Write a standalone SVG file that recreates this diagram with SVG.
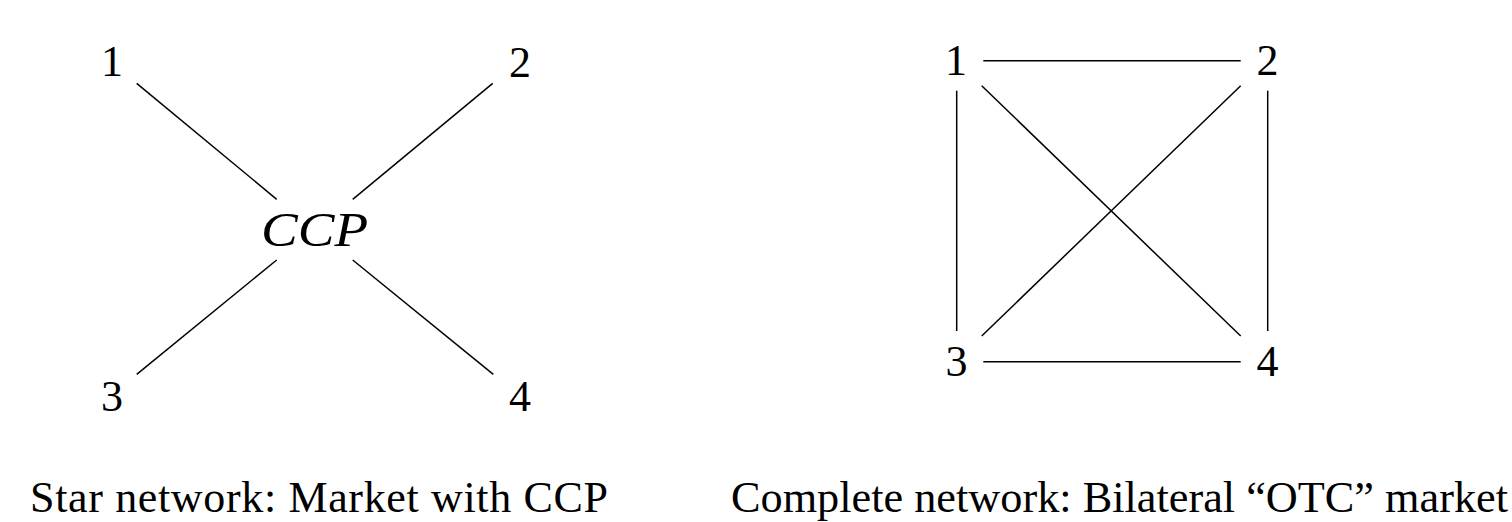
<svg xmlns="http://www.w3.org/2000/svg" width="1512" height="522" viewBox="0 0 1512 522">
<style>
.lbl{font-family:"Liberation Serif","Times New Roman",serif;font-size:44px;fill:#000;text-anchor:middle}
.ccp{font-family:"Liberation Serif","Times New Roman",serif;font-size:48px;font-style:italic;fill:#000}
.cap{font-family:"Liberation Serif","Times New Roman",serif;font-size:44px;fill:#000}
.edge{stroke:#000;stroke-width:1.5;fill:none}
</style>
<rect width="1512" height="522" fill="#fff"/>
<g id="connectors">
<line class="edge" x1="136.7" y1="83.3" x2="276.7" y2="199.3"/>
<line class="edge" x1="492.7" y1="83.3" x2="352.7" y2="199.3"/>
<line class="edge" x1="136.7" y1="374.3" x2="276.7" y2="260"/>
<line class="edge" x1="493.3" y1="374.3" x2="352.7" y2="260"/>
<line class="edge" x1="983.3" y1="60.7" x2="1240.7" y2="60.7"/>
<line class="edge" x1="983.3" y1="361.7" x2="1240.7" y2="361.7"/>
<line class="edge" x1="956.7" y1="90.7" x2="956.7" y2="331"/>
<line class="edge" x1="1267.7" y1="90.7" x2="1267.7" y2="331"/>
<line class="edge" x1="981.7" y1="85.7" x2="1240.7" y2="336"/>
<line class="edge" x1="1240.7" y1="85.7" x2="981.7" y2="336"/>
</g>
<g id="star-1"><text class="lbl" x="112" y="76">1</text></g>
<g id="star-2"><text class="lbl" x="520" y="77">2</text></g>
<g id="star-3"><text class="lbl" x="112" y="411">3</text></g>
<g id="star-4"><text class="lbl" x="520" y="411">4</text></g>
<g id="star-ccp"><text class="ccp" x="261" y="246" textLength="107" lengthAdjust="spacingAndGlyphs">CCP</text></g>
<g id="full-1"><text class="lbl" x="956" y="75">1</text></g>
<g id="full-2"><text class="lbl" x="1267.5" y="75">2</text></g>
<g id="full-3"><text class="lbl" x="956.5" y="376">3</text></g>
<g id="full-4"><text class="lbl" x="1267.5" y="376">4</text></g>
<g id="captions">
<text class="cap" x="30" y="512" textLength="578" lengthAdjust="spacing">Star network: Market with CCP</text>
<text class="cap" x="731" y="512" textLength="777" lengthAdjust="spacingAndGlyphs">Complete network: Bilateral “OTC” market</text>
</g>
</svg>
